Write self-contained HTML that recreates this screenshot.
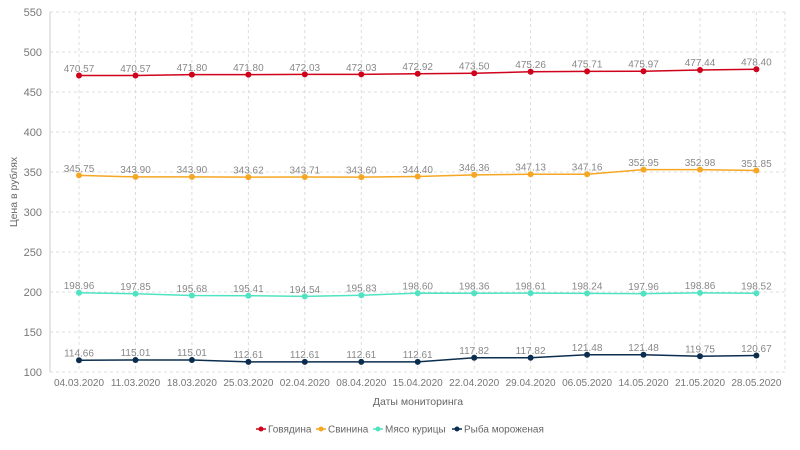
<!DOCTYPE html>
<html><head><meta charset="utf-8"><style>
html,body{margin:0;padding:0;background:#fff;}
svg{display:block;font-family:"Liberation Sans","DejaVu Sans",sans-serif;}
.g{stroke:#dcdcdc;stroke-dasharray:3,3;stroke-width:1;fill:none}
.yl{font-size:11px;fill:#777;text-anchor:end}
.xl{font-size:10px;fill:#777;text-anchor:middle}
.v{font-size:10px;fill:#888;text-anchor:middle}
</style></head><body>
<svg width="800" height="450" viewBox="0 0 800 450">
<g class="g">
<line x1="50" y1="12" x2="785" y2="12"/><line x1="50" y1="52" x2="785" y2="52"/>
<line x1="50" y1="92" x2="785" y2="92"/><line x1="50" y1="132" x2="785" y2="132"/>
<line x1="50" y1="172" x2="785" y2="172"/><line x1="50" y1="212" x2="785" y2="212"/>
<line x1="50" y1="252" x2="785" y2="252"/><line x1="50" y1="292" x2="785" y2="292"/>
<line x1="50" y1="332" x2="785" y2="332"/><line x1="50" y1="372" x2="785" y2="372"/>
<line x1="79" y1="12" x2="79" y2="372"/><line x1="135.5" y1="12" x2="135.5" y2="372"/>
<line x1="191.9" y1="12" x2="191.9" y2="372"/><line x1="248.4" y1="12" x2="248.4" y2="372"/>
<line x1="304.8" y1="12" x2="304.8" y2="372"/><line x1="361.3" y1="12" x2="361.3" y2="372"/>
<line x1="417.7" y1="12" x2="417.7" y2="372"/><line x1="474.2" y1="12" x2="474.2" y2="372"/>
<line x1="530.6" y1="12" x2="530.6" y2="372"/><line x1="587.1" y1="12" x2="587.1" y2="372"/>
<line x1="643.5" y1="12" x2="643.5" y2="372"/><line x1="700" y1="12" x2="700" y2="372"/>
<line x1="756.4" y1="12" x2="756.4" y2="372"/><line x1="785" y1="12" x2="785" y2="372"/>
</g>
<line x1="50" y1="12" x2="50" y2="372" stroke="#ccc"/>
<g class="yl">
<text x="42" y="16">550</text><text x="42" y="56">500</text><text x="42" y="96">450</text>
<text x="42" y="136">400</text><text x="42" y="176">350</text><text x="42" y="216">300</text>
<text x="42" y="256">250</text><text x="42" y="296">200</text><text x="42" y="336">150</text>
<text x="42" y="376">100</text>
</g>
<g class="xl">
<text x="79" y="386">04.03.2020</text><text x="135.5" y="386">11.03.2020</text>
<text x="191.9" y="386">18.03.2020</text><text x="248.4" y="386">25.03.2020</text>
<text x="304.8" y="386">02.04.2020</text><text x="361.3" y="386">08.04.2020</text>
<text x="417.7" y="386">15.04.2020</text><text x="474.2" y="386">22.04.2020</text>
<text x="530.6" y="386">29.04.2020</text><text x="587.1" y="386">06.05.2020</text>
<text x="643.5" y="386">14.05.2020</text><text x="700" y="386">21.05.2020</text>
<text x="756.4" y="386">28.05.2020</text>
</g>
<text x="418" y="405" font-size="10.5" fill="#666" text-anchor="middle">Даты мониторинга</text>
<text transform="translate(17,192) rotate(-90)" font-size="10.5" fill="#666" text-anchor="middle">Цена в рублях</text>

<polyline fill="none" stroke="#d0021b" stroke-width="1.5" points="79,75.5 135.5,75.5 191.9,74.6 248.4,74.6 304.8,74.4 361.3,74.4 417.7,73.7 474.2,73.2 530.6,71.8 587.1,71.4 643.5,71.2 700,70 756.4,69.3"/>
<g fill="#d0021b"><circle cx="79" cy="75.5" r="3"/><circle cx="135.5" cy="75.5" r="3"/><circle cx="191.9" cy="74.6" r="3"/><circle cx="248.4" cy="74.6" r="3"/><circle cx="304.8" cy="74.4" r="3"/><circle cx="361.3" cy="74.4" r="3"/><circle cx="417.7" cy="73.7" r="3"/><circle cx="474.2" cy="73.2" r="3"/><circle cx="530.6" cy="71.8" r="3"/><circle cx="587.1" cy="71.4" r="3"/><circle cx="643.5" cy="71.2" r="3"/><circle cx="700" cy="70" r="3"/><circle cx="756.4" cy="69.3" r="3"/></g>
<g class="v"><text x="79" y="72">470.57</text><text x="135.5" y="72">470.57</text><text x="191.9" y="71">471.80</text><text x="248.4" y="71">471.80</text><text x="304.8" y="71">472.03</text><text x="361.3" y="71">472.03</text><text x="417.7" y="70">472.92</text><text x="474.2" y="69.5">473.50</text><text x="530.6" y="68">475.26</text><text x="587.1" y="67.5">475.71</text><text x="643.5" y="67.5">475.97</text><text x="700" y="66">477.44</text><text x="756.4" y="65.5">478.40</text></g>

<polyline fill="none" stroke="#f5a623" stroke-width="1.5" points="79,175.4 135.5,176.9 191.9,176.9 248.4,177.1 304.8,177 361.3,177.1 417.7,176.5 474.2,174.9 530.6,174.3 587.1,174.3 643.5,169.6 700,169.6 756.4,170.5"/>
<g fill="#f5a623"><circle cx="79" cy="175.4" r="3"/><circle cx="135.5" cy="176.9" r="3"/><circle cx="191.9" cy="176.9" r="3"/><circle cx="248.4" cy="177.1" r="3"/><circle cx="304.8" cy="177" r="3"/><circle cx="361.3" cy="177.1" r="3"/><circle cx="417.7" cy="176.5" r="3"/><circle cx="474.2" cy="174.9" r="3"/><circle cx="530.6" cy="174.3" r="3"/><circle cx="587.1" cy="174.3" r="3"/><circle cx="643.5" cy="169.6" r="3"/><circle cx="700" cy="169.6" r="3"/><circle cx="756.4" cy="170.5" r="3"/></g>
<g class="v"><text x="79" y="172">345.75</text><text x="135.5" y="173">343.90</text><text x="191.9" y="173">343.90</text><text x="248.4" y="173.5">343.62</text><text x="304.8" y="173.5">343.71</text><text x="361.3" y="173.5">343.60</text><text x="417.7" y="173">344.40</text><text x="474.2" y="171">346.36</text><text x="530.6" y="170.5">347.13</text><text x="587.1" y="170.5">347.16</text><text x="643.5" y="166">352.95</text><text x="700" y="166">352.98</text><text x="756.4" y="167">351.85</text></g>

<polyline fill="none" stroke="#50e3c2" stroke-width="1.5" points="79,292.8 135.5,293.7 191.9,295.5 248.4,295.7 304.8,296.4 361.3,295.3 417.7,293.1 474.2,293.3 530.6,293.1 587.1,293.4 643.5,293.6 700,292.9 756.4,293.2"/>
<g fill="#50e3c2"><circle cx="79" cy="292.8" r="3"/><circle cx="135.5" cy="293.7" r="3"/><circle cx="191.9" cy="295.5" r="3"/><circle cx="248.4" cy="295.7" r="3"/><circle cx="304.8" cy="296.4" r="3"/><circle cx="361.3" cy="295.3" r="3"/><circle cx="417.7" cy="293.1" r="3"/><circle cx="474.2" cy="293.3" r="3"/><circle cx="530.6" cy="293.1" r="3"/><circle cx="587.1" cy="293.4" r="3"/><circle cx="643.5" cy="293.6" r="3"/><circle cx="700" cy="292.9" r="3"/><circle cx="756.4" cy="293.2" r="3"/></g>
<g class="v"><text x="79" y="289">198.96</text><text x="135.5" y="290">197.85</text><text x="191.9" y="292">195.68</text><text x="248.4" y="292">195.41</text><text x="304.8" y="293">194.54</text><text x="361.3" y="291.5">195.83</text><text x="417.7" y="289.5">198.60</text><text x="474.2" y="289.5">198.36</text><text x="530.6" y="289.5">198.61</text><text x="587.1" y="289.5">198.24</text><text x="643.5" y="290">197.96</text><text x="700" y="289">198.86</text><text x="756.4" y="289.5">198.52</text></g>

<polyline fill="none" stroke="#0b2e4f" stroke-width="1.5" points="79,360.3 135.5,360 191.9,360 248.4,361.9 304.8,361.9 361.3,361.9 417.7,361.9 474.2,357.7 530.6,357.7 587.1,354.8 643.5,354.8 700,356.2 756.4,355.5"/>
<g fill="#0b2e4f"><circle cx="79" cy="360.3" r="3"/><circle cx="135.5" cy="360" r="3"/><circle cx="191.9" cy="360" r="3"/><circle cx="248.4" cy="361.9" r="3"/><circle cx="304.8" cy="361.9" r="3"/><circle cx="361.3" cy="361.9" r="3"/><circle cx="417.7" cy="361.9" r="3"/><circle cx="474.2" cy="357.7" r="3"/><circle cx="530.6" cy="357.7" r="3"/><circle cx="587.1" cy="354.8" r="3"/><circle cx="643.5" cy="354.8" r="3"/><circle cx="700" cy="356.2" r="3"/><circle cx="756.4" cy="355.5" r="3"/></g>
<g class="v"><text x="79" y="356.5">114.66</text><text x="135.5" y="356">115.01</text><text x="191.9" y="356">115.01</text><text x="248.4" y="358">112.61</text><text x="304.8" y="358">112.61</text><text x="361.3" y="358">112.61</text><text x="417.7" y="358">112.61</text><text x="474.2" y="354">117.82</text><text x="530.6" y="354">117.82</text><text x="587.1" y="351">121.48</text><text x="643.5" y="351">121.48</text><text x="700" y="352.5">119.75</text><text x="756.4" y="352">120.67</text></g>

<g font-size="10" fill="#666">
<line x1="256" y1="429" x2="266" y2="429" stroke="#d0021b" stroke-width="1.5"/><circle cx="261" cy="429" r="2.5" fill="#d0021b"/><text x="268" y="432.5">Говядина</text>
<line x1="316" y1="429" x2="326" y2="429" stroke="#f5a623" stroke-width="1.5"/><circle cx="321" cy="429" r="2.5" fill="#f5a623"/><text x="328" y="432.5">Свинина</text>
<line x1="373" y1="429" x2="383" y2="429" stroke="#50e3c2" stroke-width="1.5"/><circle cx="378" cy="429" r="2.5" fill="#50e3c2"/><text x="385" y="432.5">Мясо курицы</text>
<line x1="452" y1="429" x2="462" y2="429" stroke="#0b2e4f" stroke-width="1.5"/><circle cx="457" cy="429" r="2.5" fill="#0b2e4f"/><text x="464" y="432.5">Рыба мороженая</text>
</g>
</svg>
</body></html>
